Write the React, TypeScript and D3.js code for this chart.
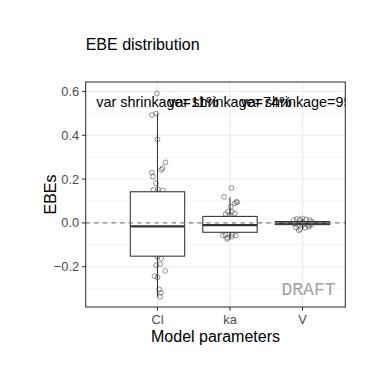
import React from "react";
import * as d3 from "d3";

const categories = ["Cl", "ka", "V"];
const shrinkageLabels = ["var shrinkage=11%", "var shrinkage=74%", "var shrinkage=95%"];
const yTicks = [-0.2, 0.0, 0.2, 0.4, 0.6];
const yMinor = [-0.3, -0.1, 0.1, 0.3, 0.5];

// box stats per category: [lowerWhisker, q1, median, q3, upperWhisker]
const boxStats = [
  [-0.337, -0.152, -0.016, 0.142, 0.499],
  [-0.073, -0.043, -0.01, 0.0295, 0.117],
  [-0.028, -0.008, -0.002, 0.006, 0.02],
];

// jittered points: category index, jitter offset (category units), value
const clValues = [0.59, 0.492, 0.499, 0.381, 0.276, 0.249, 0.242, 0.23, 0.211, 0.181, 0.151, 0.154, 0.148,
  -0.155, -0.163, -0.193, -0.189, -0.219, -0.243, -0.249, -0.304, -0.319, -0.337];
const clJitter = [-0.008, -0.077, -0.018, 0, 0.11, 0.069, 0.051, -0.077, -0.063, -0.022, -0.055, 0.006, 0.074,
  0, 0.051, -0.018, 0.037, 0.106, -0.041, 0, 0.023, 0.047, 0.037];
const kaValues = [0.16, 0.119, 0.096, 0.089, 0.094, 0.074, 0.051, 0.051, 0.04, 0.043, 0.035,
  -0.055, -0.067, -0.063, -0.058, -0.058, -0.073, -0.052];
const kaJitter = [0.019, -0.083, 0.088, 0.065, 0.1, 0.01, -0.028, 0.028, -0.059, 0.065, -0.004,
  -0.063, -0.028, 0.019, 0.079, -0.097, -0.041, 0.037];
const vValues = [0.012, 0.018, 0.015, 0.02, 0.016, 0.012, 0.005, -0.004, -0.01, -0.006, -0.012, -0.008,
  -0.02, -0.028, -0.034, -0.022, -0.018];
const vJitter = [-0.12, -0.08, -0.04, 0.0, 0.05, 0.1, 0.13, -0.11, -0.06, 0.02, 0.08, 0.12,
  -0.09, -0.03, -0.05, 0.04, 0.09];

const pointSets = [
  { values: clValues, jitter: clJitter },
  { values: kaValues, jitter: kaJitter },
  { values: vValues, jitter: vJitter },
];

const W = 384, H = 384;
const panel = { left: 85.7, right: 345.3, top: 82, bottom: 307 };
const FONT = "'Liberation Sans', Arial, sans-serif";

export default function App() {
  const x = d3.scaleLinear().domain([0.01, 3.59]).range([panel.left, panel.right]);
  const y = d3.scaleLinear().domain([-0.384, 0.643]).range([panel.bottom, panel.top]);
  const boxHalf = 0.375;
  const tickLen = 3.67;
  const fmt = d3.format(".1f");

  return (
    <svg width={W} height={H} style={{ position: "absolute", left: 0, top: 0, background: "#fff" }}>
      <defs>
        <clipPath id="pclip">
          <rect x={panel.left} y={panel.top} width={panel.right - panel.left} height={panel.bottom - panel.top} />
        </clipPath>
      </defs>
      <rect x={0} y={0} width={W} height={H} fill="#fff" />
      {/* grid */}
      <g>
        {yMinor.map((t) => (
          <line key={"mn" + t} x1={panel.left} x2={panel.right} y1={y(t)} y2={y(t)} stroke="#ebebeb" strokeWidth={0.55} />
        ))}
        {yTicks.map((t) => (
          <line key={"mj" + t} x1={panel.left} x2={panel.right} y1={y(t)} y2={y(t)} stroke="#ebebeb" strokeWidth={1.07} />
        ))}
        {categories.map((c, i) => (
          <line key={"vx" + c} x1={x(i + 1)} x2={x(i + 1)} y1={panel.top} y2={panel.bottom} stroke="#ebebeb" strokeWidth={1.07} />
        ))}
      </g>
      {/* points */}
      <g clipPath="url(#pclip)">
        {pointSets.map((ps, i) =>
          ps.values.map((v, j) => (
            <circle key={i + "-" + j} cx={x(i + 1 + ps.jitter[j])} cy={y(v)} r={2.4} fill="none" stroke="#555" strokeOpacity={0.85} strokeWidth={0.75} />
          ))
        )}
      </g>
      {/* boxes */}
      <g>
        {boxStats.map((s, i) => {
          const cx = x(i + 1);
          const x0 = x(i + 1 - boxHalf), x1 = x(i + 1 + boxHalf);
          return (
            <g key={"b" + i}>
              <line x1={cx} x2={cx} y1={y(s[3])} y2={y(s[4])} stroke="#333" strokeWidth={1.07} />
              <line x1={cx} x2={cx} y1={y(s[1])} y2={y(s[0])} stroke="#333" strokeWidth={1.07} />
              <rect x={x0} y={y(s[3])} width={x1 - x0} height={y(s[1]) - y(s[3])} fill="#fff" stroke="#333" strokeWidth={1.07} />
              <line x1={x0} x2={x1} y1={y(s[2])} y2={y(s[2])} stroke="#333" strokeWidth={2.13} />
            </g>
          );
        })}
      </g>
      {/* zero reference line */}
      <line x1={panel.left} x2={panel.right} y1={y(0)} y2={y(0)} stroke="#808080" strokeWidth={1.07} strokeDasharray="4.3,4.3" />
      {/* shrinkage labels */}
      <g clipPath="url(#pclip)">
        {shrinkageLabels.map((t, i) => (
          <text key={t} x={x(i + 1)} y={y(0.55) + 5} textAnchor="middle" fontFamily={FONT} fontSize={14.4} fill="#000">
            {t}
          </text>
        ))}
      </g>
      {/* DRAFT */}
      <text x={335.5} y={294.5} textAnchor="end" fontFamily="'Liberation Mono', 'DejaVu Sans Mono', monospace" fontSize={18} fill="#a0a0a0">
        DRAFT
      </text>
      {/* panel border */}
      <rect x={panel.left} y={panel.top} width={panel.right - panel.left} height={panel.bottom - panel.top} fill="none" stroke="#333" strokeWidth={1.07} />
      {/* y axis */}
      <g>
        {yTicks.map((t) => (
          <g key={"yt" + t}>
            <line x1={panel.left - tickLen} x2={panel.left} y1={y(t)} y2={y(t)} stroke="#333" strokeWidth={1.07} />
            <text x={panel.left - tickLen - 2.9} y={y(t)} dy="0.35em" textAnchor="end" fontFamily={FONT} fontSize={12.8} fill="#4d4d4d">
              {fmt(t)}
            </text>
          </g>
        ))}
      </g>
      {/* x axis */}
      <g>
        {categories.map((c, i) => (
          <g key={"xt" + c}>
            <line x1={x(i + 1)} x2={x(i + 1)} y1={panel.bottom} y2={panel.bottom + tickLen} stroke="#333" strokeWidth={1.07} />
            <text x={x(i + 1)} y={panel.bottom + tickLen + 2.9 + 10} textAnchor="middle" fontFamily={FONT} fontSize={12.8} fill="#4d4d4d">
              {c}
            </text>
          </g>
        ))}
      </g>
      {/* titles */}
      <text x={(panel.left + panel.right) / 2} y={341.5} textAnchor="middle" fontFamily={FONT} fontSize={16} fill="#000">
        Model parameters
      </text>
      <text transform={`translate(55.5, ${(panel.top + panel.bottom) / 2}) rotate(-90)`} textAnchor="middle" fontFamily={FONT} fontSize={16} fill="#000">
        EBEs
      </text>
      <text x={panel.left} y={50} fontFamily={FONT} fontSize={16} fill="#000">
        EBE distribution
      </text>
    </svg>
  );
}
